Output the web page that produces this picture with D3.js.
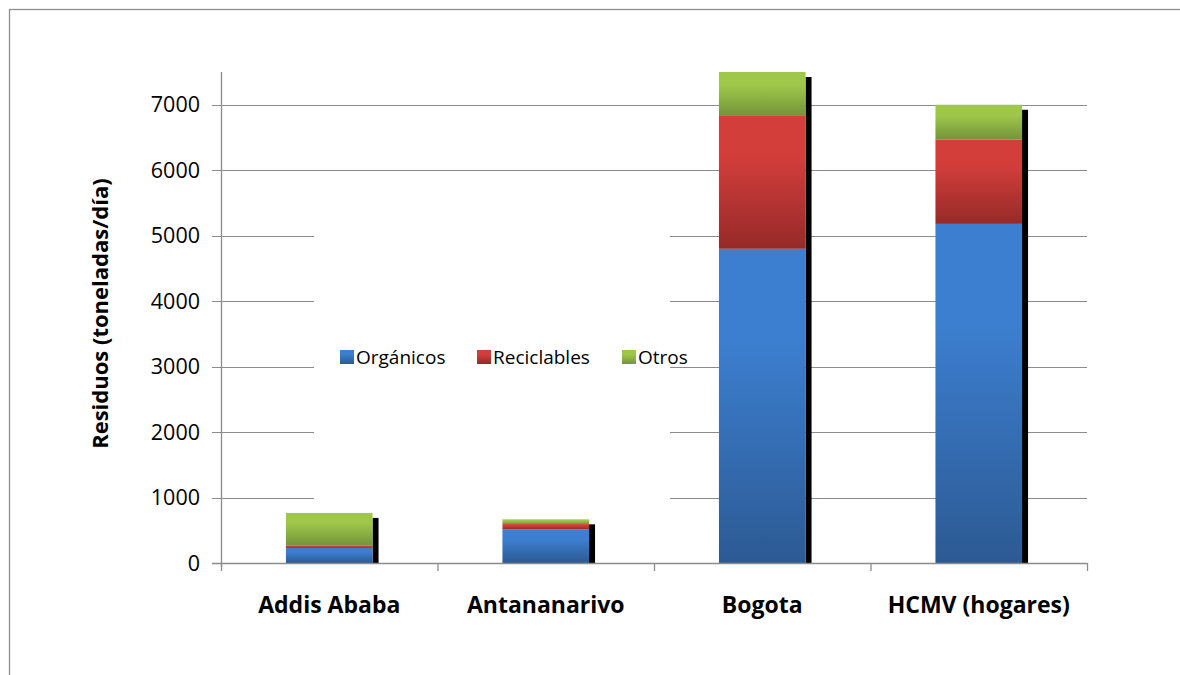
<!DOCTYPE html>
<html>
<head>
<meta charset="utf-8">
<script src="https://cdn.jsdelivr.net/npm/d3@7"></script>
<style>
    body { margin: 0; background: #fff; }
    svg { display: block; }
    text { font-family: "Open Sans", Lato, sans-serif; fill: #000; }
</style>
</head>
<body>
<div id="chart"></div>
<script>
// chart data
const cities = ["Addis Ababa", "Antananarivo", "Bogota", "HCMV (hogares)"];
const seriesNames = ["Orgánicos", "Reciclables", "Otros"];
const organicos = [230, 515, 4800, 5180];
const reciclables = [40, 80, 2040, 1290];
const otros = [495, 72, 660, 530];
const yTicks = [0, 1000, 2000, 3000, 4000, 5000, 6000, 7000];
const yMax = 7500;

const W = 1180, H = 675;
const margin = {top: 72, right: 93, bottom: 112, left: 221};
const width = W - margin.left - margin.right;
const height = H - margin.top - margin.bottom;

const colors = {
    "Orgánicos": ["#3c7ecf", "#2c5a93"],
    "Reciclables": ["#d33e3b", "#952a28"],
    "Otros": ["#9fc84b", "#74943a"]
};

const svg = d3.select("#chart").append("svg")
    .attr("width", W)
    .attr("height", H);

// gradients, light at the top, darker at the bottom
const defs = svg.append("defs");
seriesNames.forEach((name, i) => {
    const g = defs.append("linearGradient")
        .attr("id", "grad" + i)
        .attr("x1", 0).attr("y1", 0).attr("x2", 0).attr("y2", 1);
    g.append("stop").attr("offset", "0%").attr("stop-color", colors[name][0]);
    g.append("stop").attr("offset", "30%").attr("stop-color", colors[name][0]);
    g.append("stop").attr("offset", "100%").attr("stop-color", colors[name][1]);
});

// outer frame
svg.append("rect")
    .attr("x", 9.5).attr("y", 9.5)
    .attr("width", W + 20).attr("height", H + 20)
    .attr("fill", "none")
    .attr("stroke", "#8f8f8f")
    .attr("stroke-width", 1.3);

const g = svg.append("g")
    .attr("transform", `translate(${margin.left},${margin.top})`);

const x = d3.scaleBand().domain(cities).range([0, width]).padding(0);
const y = d3.scaleLinear().domain([0, yMax]).range([height, 0]);
const barW = x.bandwidth() / 2.5;

// gridlines
g.append("g")
    .selectAll("line")
    .data(yTicks)
    .join("line")
    .attr("x1", -9).attr("x2", width)
    .attr("y1", d => Math.round(y(d)) + 0.5)
    .attr("y2", d => Math.round(y(d)) + 0.5)
    .attr("stroke", "#8c8c8c")
    .attr("stroke-width", 1.2);

// y tick labels
g.append("g")
    .selectAll("text")
    .data(yTicks)
    .join("text")
    .attr("x", -21)
    .attr("y", d => y(d))
    .attr("dy", "0.36em")
    .attr("text-anchor", "end")
    .attr("font-size", 21.5)
    .text(d => d);

// legend box sits over the gridlines
const legendBox = {x0: 314 - margin.left, x1: 670 - margin.left};
g.append("rect")
    .attr("x", legendBox.x0)
    .attr("y", y(6000) + 18)
    .attr("width", legendBox.x1 - legendBox.x0)
    .attr("height", y(1000) - y(6000) + 10)
    .attr("fill", "#fff");

// stacked bars
const stackData = cities.map((c, i) => ({
    city: c, "Orgánicos": organicos[i], "Reciclables": reciclables[i], "Otros": otros[i]
}));
const stack = d3.stack().keys(seriesNames)(stackData);
const totals = stackData.map(d => d3.sum(seriesNames, k => d[k]));

// shadow to the right of each column
g.append("g")
    .selectAll("rect")
    .data(cities)
    .join("rect")
    .attr("x", d => x(d) + (x.bandwidth() + barW) / 2)
    .attr("y", (d, i) => y(totals[i]) + 5)
    .attr("width", 6)
    .attr("height", (d, i) => height - y(totals[i]) - 5)
    .attr("fill", "#000");

stack.forEach((layer, si) => {
    g.append("g")
        .selectAll("rect")
        .data(layer)
        .join("rect")
        .attr("x", d => x(d.data.city) + (x.bandwidth() - barW) / 2)
        .attr("y", d => y(d[1]))
        .attr("width", barW)
        .attr("height", d => y(d[0]) - y(d[1]))
        .attr("fill", `url(#grad${si})`);
});

// axes lines
g.append("line")
    .attr("x1", 0.5).attr("x2", 0.5)
    .attr("y1", 0).attr("y2", height + 4)
    .attr("stroke", "#8c8c8c").attr("stroke-width", 1.3);
g.append("line")
    .attr("x1", -9).attr("x2", width)
    .attr("y1", height + 0.5).attr("y2", height + 0.5)
    .attr("stroke", "#8c8c8c").attr("stroke-width", 1.3);
g.append("g")
    .selectAll("line")
    .data(d3.range(cities.length + 1))
    .join("line")
    .attr("x1", d => d * x.step() + 0.5)
    .attr("x2", d => d * x.step() + 0.5)
    .attr("y1", height).attr("y2", height + 8)
    .attr("stroke", "#8c8c8c").attr("stroke-width", 1.3);

// category labels
g.append("g")
    .selectAll("text")
    .data(cities)
    .join("text")
    .attr("x", d => x(d) + x.bandwidth() / 2)
    .attr("y", height + 42)
    .attr("dy", "0.36em")
    .attr("text-anchor", "middle")
    .attr("font-size", 23)
    .attr("font-weight", "bold")
    .text(d => d);

// y axis title
svg.append("text")
    .attr("transform", `translate(100,${margin.top + y(3810)}) rotate(-90)`)
    .attr("text-anchor", "middle")
    .attr("dy", "0.36em")
    .attr("font-size", 22)
    .attr("font-weight", "bold")
    .text("Residuos (toneladas/día)");

// legend
const legendX = [340, 477, 622];
const legend = svg.append("g")
    .selectAll("g")
    .data(seriesNames)
    .join("g")
    .attr("transform", (d, i) => `translate(${legendX[i]},357)`);
legend.append("rect")
    .attr("x", 0).attr("y", -7)
    .attr("width", 14).attr("height", 14)
    .attr("fill", (d, i) => `url(#grad${i})`);
legend.append("text")
    .attr("x", 16)
    .attr("dy", "0.36em")
    .attr("font-size", 19)
    .text(d => d);
</script>
</body>
</html>
